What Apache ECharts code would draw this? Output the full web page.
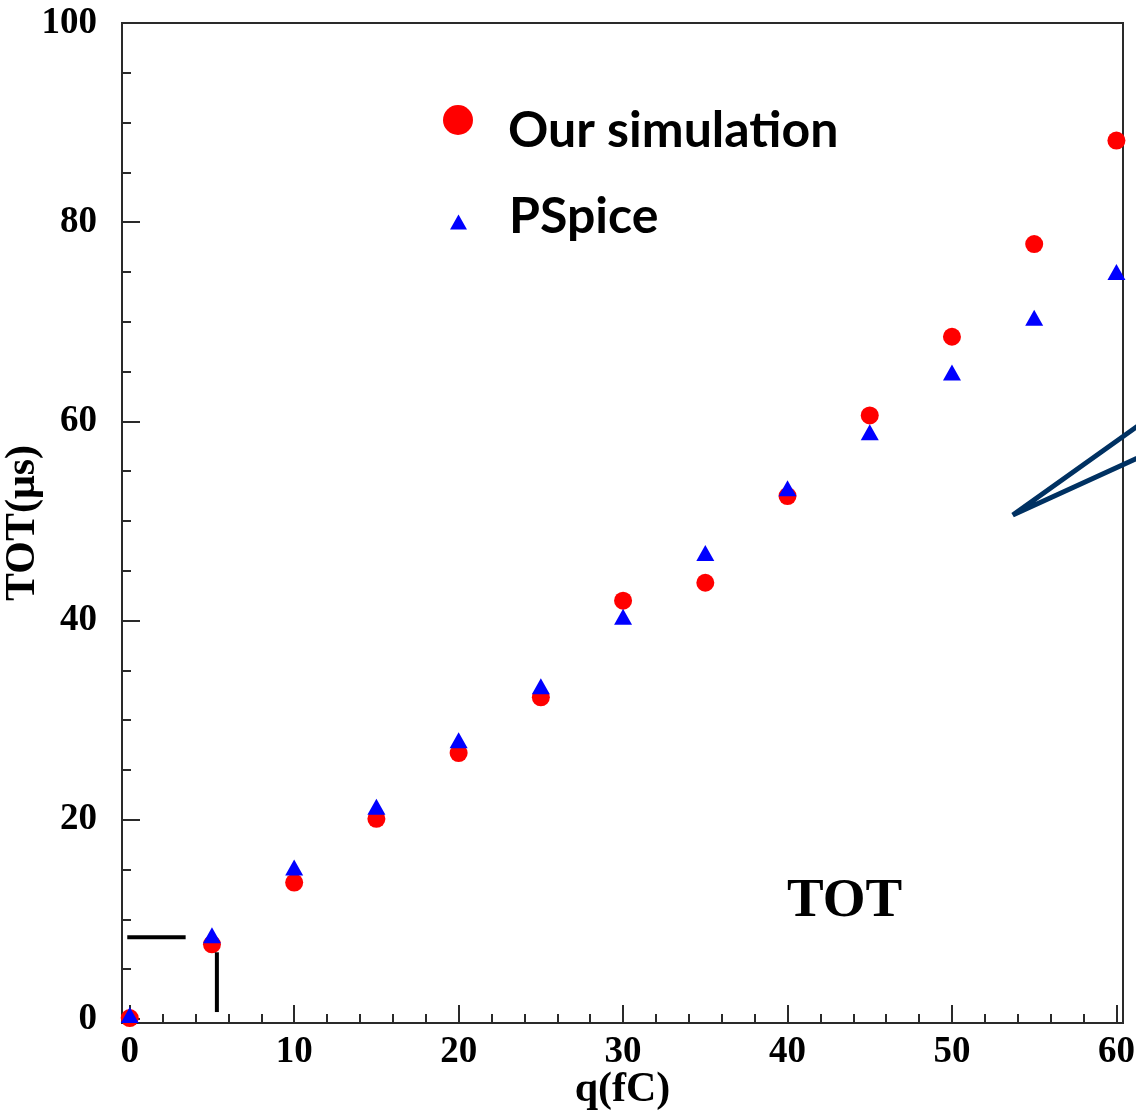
<!DOCTYPE html>
<html>
<head>
<meta charset="utf-8">
<script src="https://cdn.jsdelivr.net/npm/echarts@6/dist/echarts.min.js"></script>
<style>
  html, body { margin: 0; padding: 0; background: #fff; }
  #chart { width: 1136px; height: 1114px; }
</style>
</head>
<body>
<div id="chart"></div>
<script>
// Injected charge (fC) and time-over-threshold (µs)
const qValues   = [0, 5, 10, 15, 20, 25, 30, 35, 40, 45, 50, 55, 60];
const simTOT    = [0.1, 7.5, 13.7, 20.1, 26.7, 32.3, 42.0, 43.8, 52.5, 60.6, 68.5, 77.8, 88.2];
const pspiceTOT = [0.4, 8.4, 15.2, 21.3, 28.0, 33.4, 40.4, 46.8, 53.3, 58.9, 64.9, 70.4, 75.0];

// Axis tick positions
const xMajorTicks = [0, 10, 20, 30, 40, 50, 60];
const xMinorTicks = [2, 4, 6, 8, 12, 14, 16, 18, 22, 24, 26, 28, 32, 34, 36, 38,
                     42, 44, 46, 48, 52, 54, 56, 58];
const yMajorTicks = [0, 20, 40, 60, 80, 100];
const yMinorTicks = [5, 10, 15, 25, 30, 35, 45, 50, 55, 65, 70, 75, 85, 90, 95];

// Marker lines near the origin and the pointer lines on the right
const thresholdLineH = [[-0.15, 8.2], [3.4, 8.2]];
const thresholdLineV = [[5.3, 0.7], [5.3, 6.7]];
const pointerLines   = [[62.2, 60.6], [53.7, 50.6], [62.2, 57.0]];

const serifBold = { fontFamily: '"Liberation Serif", "Times New Roman", serif', fontWeight: 'bold', color: '#000' };
const legendFont = { fontFamily: 'Lato, "Open Sans", sans-serif', fontWeight: 'bold', fontSize: 50, color: '#000' };
const frameColor = '#2a2a2a';

const toPairs = (xs, ys) => xs.map((x, i) => [x, ys[i]]);

const chart = echarts.init(document.getElementById('chart'), null, { renderer: 'canvas' });

const xRange = { min: -0.47, max: 60.4 };
const yRange = { min: -0.4, max: 100 };

chart.setOption({
  animation: false,
  backgroundColor: '#fff',
  grid: {
    left: 122, top: 23, right: 13, bottom: 91,
    containLabel: false, outerBoundsMode: 'none',
    show: true, borderColor: frameColor, borderWidth: 2, backgroundColor: 'transparent'
  },
  title: {
    text: 'TOT', left: 787, top: 874, padding: 0,
    textStyle: Object.assign({ fontSize: 55 }, serifBold)
  },
  legend: [
    {
      data: ['Our simulation'], icon: 'circle', itemWidth: 30, itemHeight: 30,
      left: 443, top: 105, padding: 0, selectedMode: false,
      formatter: '{t|{name}}',
      textStyle: Object.assign({ rich: { t: Object.assign({ padding: [22, 0, 0, 30] }, legendFont) } }, legendFont)
    },
    {
      data: ['PSpice'], icon: 'triangle', itemWidth: 17, itemHeight: 15,
      left: 450, top: 192, padding: 0, selectedMode: false,
      formatter: '{t|{name}}',
      textStyle: Object.assign({ rich: { t: Object.assign({ padding: [0, 0, 10, 37] }, legendFont) } }, legendFont)
    }
  ],
  xAxis: [
    {
      type: 'value', position: 'bottom', min: xRange.min, max: xRange.max,
      name: 'q(fC)', nameLocation: 'middle', nameGap: 46, nameMoveOverlap: false,
      nameTextStyle: Object.assign({ fontSize: 42 }, serifBold),
      axisLine: { show: true, onZero: false, lineStyle: { color: frameColor, width: 2 } },
      axisTick: { show: true, inside: true, length: 18, customValues: xMajorTicks, lineStyle: { color: frameColor, width: 2 } },
      axisLabel: Object.assign({ fontSize: 37, margin: 11, customValues: xMajorTicks }, serifBold),
      splitLine: { show: false }
    },
    {
      type: 'value', position: 'bottom', min: xRange.min, max: xRange.max,
      axisLine: { show: false, onZero: false },
      axisTick: { show: true, inside: true, length: 9, customValues: xMinorTicks, lineStyle: { color: frameColor, width: 2 } },
      axisLabel: { show: false },
      splitLine: { show: false }
    }
  ],
  yAxis: [
    {
      type: 'value', position: 'left', min: yRange.min, max: yRange.max,
      name: 'TOT(μs)', nameLocation: 'middle', nameGap: 78, nameRotate: 90, nameMoveOverlap: false,
      nameTextStyle: Object.assign({ fontSize: 42 }, serifBold),
      axisLine: { show: true, onZero: false, lineStyle: { color: frameColor, width: 2 } },
      axisTick: { show: true, inside: true, length: 18, customValues: yMajorTicks, lineStyle: { color: frameColor, width: 2 } },
      axisLabel: Object.assign({ fontSize: 37, margin: 25, customValues: yMajorTicks }, serifBold),
      splitLine: { show: false }
    },
    {
      type: 'value', position: 'left', min: yRange.min, max: yRange.max,
      axisLine: { show: false, onZero: false },
      axisTick: { show: true, inside: true, length: 9, customValues: yMinorTicks, lineStyle: { color: frameColor, width: 2 } },
      axisLabel: { show: false },
      splitLine: { show: false }
    }
  ],
  series: [
    {
      name: 'Our simulation', type: 'scatter', symbol: 'circle', symbolSize: 18,
      itemStyle: { color: '#ff0000', opacity: 1 }, clip: false, z: 3,
      data: toPairs(qValues, simTOT)
    },
    {
      name: 'PSpice', type: 'scatter', symbol: 'triangle', symbolSize: [18, 16],
      itemStyle: { color: '#0000ff', opacity: 1 }, clip: false, z: 4,
      data: toPairs(qValues, pspiceTOT)
    },
    {
      name: 'thresholdH', type: 'line', symbol: 'none', clip: false, z: 5,
      lineStyle: { color: '#000', width: 4 }, data: thresholdLineH
    },
    {
      name: 'thresholdV', type: 'line', symbol: 'none', clip: false, z: 5,
      lineStyle: { color: '#000', width: 4 }, data: thresholdLineV
    }
  ]
});

// Pointer lines run past the plot frame, so they are drawn as a polyline
// whose points are converted from data space through the chart's axes.
const pointerPixels = pointerLines.map(p => chart.convertToPixel({ xAxisIndex: 0, yAxisIndex: 0 }, p));
chart.setOption({
  graphic: [{
    type: 'polyline', z: 100,
    shape: { points: pointerPixels },
    style: { stroke: '#003162', lineWidth: 5, fill: null, lineJoin: 'miter' }
  }]
});
</script>
</body>
</html>
